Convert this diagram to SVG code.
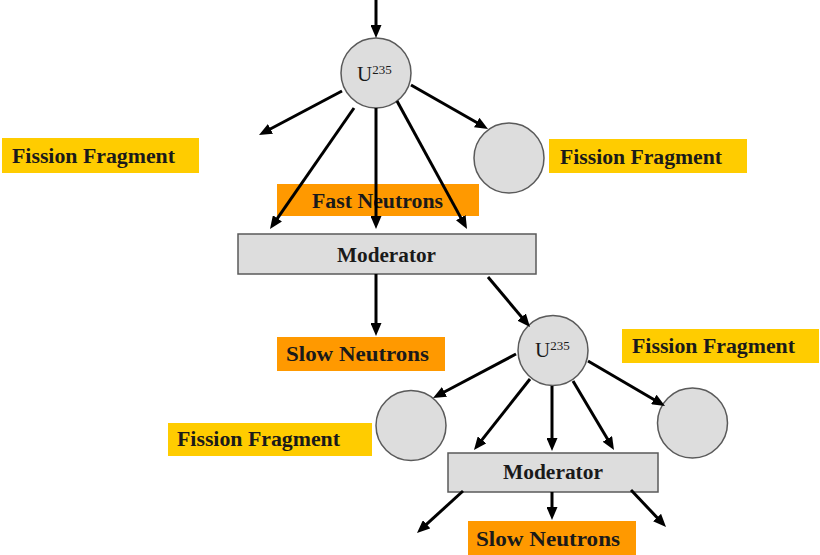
<svg xmlns="http://www.w3.org/2000/svg" width="820" height="555" viewBox="0 0 820 555">
<style>
.bg{fill:#ffffff}
.yel{fill:#FFCC00}
.org{fill:#FF9900}
.circ{fill:#DDDDDD;stroke:#5a5a5a;stroke-width:1.5}
.mod{fill:#DDDDDD;stroke:#5a5a5a;stroke-width:1.5}
.lbl{font-family:"Liberation Serif","Times New Roman",serif;font-weight:bold;font-size:20px;fill:#1a1a1a}
.u{font-family:"Liberation Serif","Times New Roman",serif;font-size:21px;fill:#1a1a1a}
.sup{font-size:13px}
.arr{stroke:#000;stroke-width:3;fill:none;marker-end:url(#ah)}
</style>
<defs>
<marker id="ah" markerUnits="userSpaceOnUse" markerWidth="13" markerHeight="11" refX="4" refY="5.5" orient="auto">
<path d="M0,0 L13,5.5 L0,11 z" fill="#000"/>
</marker>
</defs>
<rect class="bg" x="0" y="0" width="820" height="555"/>

<g id="ff1"><rect class="yel" x="2" y="138" width="197" height="35"/><text class="lbl" x="12" y="163" textLength="163" lengthAdjust="spacingAndGlyphs">Fission Fragment</text></g>
<g id="ff2"><rect class="yel" x="549" y="139" width="198" height="34"/><text class="lbl" x="560" y="164" textLength="162" lengthAdjust="spacingAndGlyphs">Fission Fragment</text></g>
<g id="fast"><rect class="org" x="277" y="184" width="202" height="32"/><text class="lbl" x="312" y="208" textLength="131" lengthAdjust="spacingAndGlyphs">Fast Neutrons</text></g>
<g id="u1"><circle class="circ" cx="376" cy="73" r="35"/><text class="u" x="357" y="81">U<tspan class="sup" dy="-7">235</tspan></text></g>
<g id="frag1"><circle class="circ" cx="509" cy="158" r="35"/></g>
<g id="mod1"><rect class="mod" x="238" y="234" width="298" height="40"/><text class="lbl" x="337" y="262" textLength="99" lengthAdjust="spacingAndGlyphs">Moderator</text></g>
<g id="slow1"><rect class="org" x="277" y="337" width="168" height="34"/><text class="lbl" x="286" y="361" textLength="143" lengthAdjust="spacingAndGlyphs">Slow Neutrons</text></g>
<g id="u2"><circle class="circ" cx="553" cy="350.5" r="35"/><text class="u" x="535" y="357">U<tspan class="sup" dy="-7">235</tspan></text></g>
<g id="ff3"><rect class="yel" x="622" y="329" width="197" height="34"/><text class="lbl" x="632" y="353" textLength="163" lengthAdjust="spacingAndGlyphs">Fission Fragment</text></g>
<g id="ff4"><rect class="yel" x="168" y="423" width="204" height="33"/><text class="lbl" x="177" y="446" textLength="163" lengthAdjust="spacingAndGlyphs">Fission Fragment</text></g>
<g id="frag2"><circle class="circ" cx="411" cy="425.5" r="35"/></g>
<g id="frag3"><circle class="circ" cx="692.5" cy="423" r="35"/></g>
<g id="mod2"><rect class="mod" x="448" y="453" width="210" height="39"/><text class="lbl" x="503" y="479" textLength="100" lengthAdjust="spacingAndGlyphs">Moderator</text></g>
<g id="slow2"><rect class="org" x="468" y="521" width="168" height="36"/><text class="lbl" x="476" y="546" textLength="144" lengthAdjust="spacingAndGlyphs">Slow Neutrons</text></g>

<g id="connectors">
<line class="arr" x1="376" y1="0" x2="376" y2="29"/>
<line class="arr" x1="342" y1="91" x2="266.95" y2="130.78"/>
<line class="arr" x1="354" y1="108" x2="275.13" y2="221.61"/>
<line class="arr" x1="376" y1="108" x2="376" y2="220"/>
<line class="arr" x1="397" y1="101" x2="462.68" y2="221.10"/>
<line class="arr" x1="411" y1="85" x2="480.19" y2="124.53"/>
<line class="arr" x1="376" y1="274" x2="376" y2="327"/>
<line class="arr" x1="488" y1="277" x2="524.21" y2="320.11"/>
<line class="arr" x1="516" y1="354" x2="440.95" y2="393.78"/>
<line class="arr" x1="530" y1="379" x2="479.57" y2="442.93"/>
<line class="arr" x1="552" y1="386" x2="552" y2="442"/>
<line class="arr" x1="573" y1="381" x2="609.40" y2="442.26"/>
<line class="arr" x1="588" y1="361" x2="657.23" y2="401.46"/>
<line class="arr" x1="463" y1="491" x2="423.65" y2="526.93"/>
<line class="arr" x1="552" y1="492" x2="552" y2="511"/>
<line class="arr" x1="631" y1="490" x2="659.82" y2="520.46"/>
</g>
</svg>
